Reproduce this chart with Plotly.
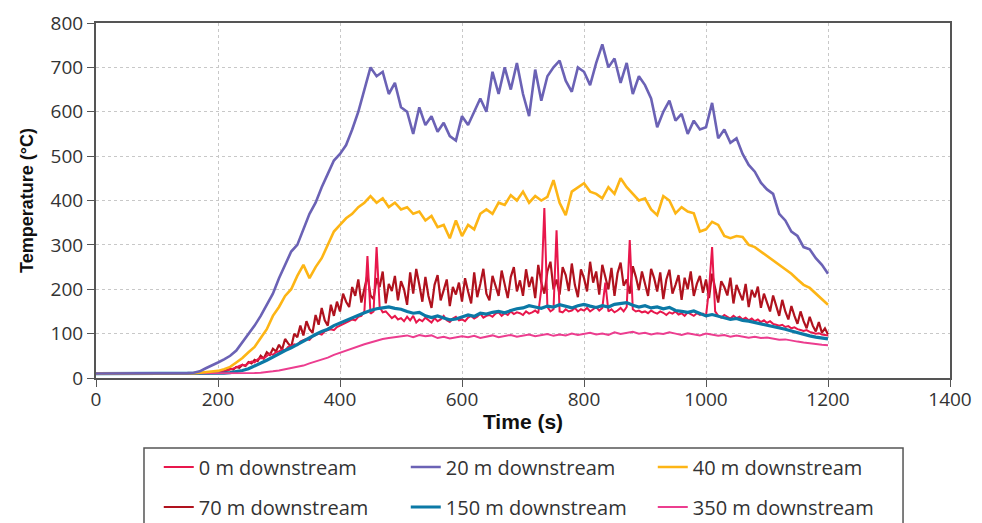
import plotly.graph_objects as go

# ---------------- data ----------------
time10 = list(range(0, 1201, 10))
time5 = list(range(0, 1201, 5))

t20 = [10]*15 + [
    11, 12, 15, 22, 28, 35, 42, 50, 62, 80,
    100, 118, 140, 165, 190, 225, 255, 285, 300, 335,
    370, 395, 430, 460, 490, 505, 525, 560, 600, 650,
    700, 680, 690, 640, 665, 610, 600, 550, 610, 570,
    590, 555, 575, 545, 535, 590, 570, 600, 630, 600,
    690, 640, 700, 650, 710, 640, 590, 695, 625, 680,
    700, 715, 670, 645, 700, 690, 660, 710, 752, 700,
    720, 665, 710, 640, 680, 660, 630, 565, 600, 625,
    580, 595, 550, 580, 560, 565, 620, 540, 560, 530,
    540, 505, 480, 465, 440, 425, 415, 370, 355, 330,
    320, 295, 290, 270, 255, 235]

t40 = [10]*16 + [
    11, 12, 13, 14, 16, 20, 25, 35, 45, 58,
    70, 90, 110, 140, 160, 185, 200, 230, 255, 225,
    250, 270, 300, 330, 345, 360, 370, 385, 395, 410,
    395, 405, 385, 395, 380, 385, 370, 375, 355, 365,
    340, 345, 315, 355, 320, 345, 335, 370, 380, 370,
    395, 390, 412, 400, 420, 395, 410, 400, 408, 446,
    395, 367, 420, 430, 439, 420, 415, 405, 430, 415,
    450, 430, 416, 400, 405, 380, 367, 410, 400, 371,
    385, 375, 371, 330, 335, 352, 345, 320, 315, 320,
    318, 300, 295, 285, 275, 265, 255, 245, 235, 222,
    210, 203, 190, 178, 165]

t150 = [10]*21 + [
    11, 12, 14, 17, 21, 27, 33, 40, 47, 55,
    62, 68, 76, 84, 92, 98, 105, 110, 118, 124,
    130, 136, 142, 147, 152, 156, 158, 160, 157, 155,
    150, 146, 148, 140, 136, 140, 135, 131, 133, 138,
    142, 139, 146, 144, 148, 150, 147, 152, 156, 158,
    163, 160, 157, 162, 160, 165, 161, 158, 163, 166,
    162, 159, 163, 160, 166, 168, 170, 164, 160, 163,
    158, 160, 156, 159, 152, 150, 148, 151, 145, 140,
    143, 139, 135, 132, 134, 130, 128, 125, 122, 120,
    117, 114, 110, 106, 102, 98, 95, 92, 90, 88]

t350 = [10]*26 + [
    11, 12, 13, 15, 17, 20, 23, 25, 28, 33,
    37, 42, 46, 52, 57, 62, 66, 72, 76, 80,
    84, 88, 90, 92, 95, 96, 92, 97, 94, 96,
    90, 93, 89, 92, 94, 92, 95, 90, 93, 96,
    92, 95, 97, 93, 96, 98, 94, 97, 99, 95,
    98, 96, 100, 97, 99, 102, 98, 100, 97, 103,
    99, 101, 104, 100, 102, 98, 101, 99, 103, 100,
    97, 101, 99, 96, 100, 98, 95, 97, 93, 96,
    94, 91, 93, 90, 91, 88, 86, 87, 84, 82,
    80, 78, 77, 75, 74]

t70 = [10]*36 + [11, 11, 12, 12] + [
    13, 15, 14, 18, 21, 19, 25, 23, 30, 27, 36, 33, 41, 38, 50, 44, 58, 52, 66, 60,
    75, 64, 88, 78, 70, 100, 92, 118, 96, 128, 110, 102, 142, 120, 158, 130, 118, 165, 140, 172,
    150, 190, 172, 160, 205, 185, 222, 170, 200, 232, 186, 178, 225, 205, 240, 168, 212, 196, 230, 175,
    218, 200, 165, 238, 190, 246, 210, 172, 228, 185, 158, 210, 232, 175, 198, 222, 162, 205, 188, 215,
    172, 225, 195, 168, 238, 182, 212, 246, 190, 175, 230, 205, 185, 242, 210, 180, 228, 250, 195, 220,
    185, 245, 205, 228, 180, 255, 215, 190, 240, 262, 200, 222, 188, 250, 232, 196, 258, 210, 182, 245,
    225, 195, 262, 215, 240, 188, 255, 230, 200, 248, 185, 236, 260, 208, 222, 190, 252, 228, 198, 240,
    212, 185, 246, 225, 195, 238, 178, 222, 244, 190, 210, 232, 176, 226, 200, 240, 185, 212, 230, 192,
    222, 180, 235, 198, 170, 218, 205, 186, 226, 168, 210, 192, 175, 212, 160, 198, 182, 206, 158, 190,
    172, 150, 186, 160, 140, 176, 150, 132, 162, 140, 122, 150, 128, 112, 138, 118, 105, 126, 102, 112,
    98]

t0 = [10]*36 + [11, 11, 12, 12] + [
    13, 14, 15, 17, 19, 21, 24, 27, 30, 28, 34, 37, 35, 42, 45, 44, 50, 55, 52, 58,
    60, 64, 62, 70, 72, 76, 74, 82, 85, 88, 86, 94, 97, 100, 98, 105, 108, 110, 108, 115,
    118, 122, 125, 128, 132, 130, 138, 140, 150, 275, 145, 150, 295, 160, 148, 150, 142, 135, 140, 132,
    135, 128, 138, 130, 140, 125, 132, 128, 136, 130, 125, 135, 128, 132, 140, 130, 126, 134, 138, 130,
    132, 128, 136, 140, 134, 138, 145, 136, 140, 142, 138, 145, 148, 140, 146, 142, 150, 144, 148, 146,
    142, 150, 145, 148, 152, 146, 200, 383, 160, 150, 155, 333, 150, 148, 155, 150, 152, 158, 150, 155,
    152, 158, 150, 155, 160, 152, 158, 215, 150, 155, 148, 152, 158, 150, 160, 311, 155, 150, 152, 148,
    150, 146, 152, 148, 145, 150, 147, 142, 148, 145, 150, 143, 146, 140, 148, 144, 140, 146, 142, 145,
    140, 200, 295, 150, 140, 136, 142, 138, 134, 140, 135, 138, 132, 136, 130, 134, 128, 132, 126, 130,
    124, 128, 122, 120, 118, 120, 115, 117, 112, 114, 110, 108, 106, 108, 104, 102, 100, 101, 98, 97,
    96]

names = ["0 m downstream", "20 m downstream", "40 m downstream",
         "70 m downstream", "150 m downstream", "350 m downstream"]
colors = ["#E8174C", "#6B62B5", "#FDB515", "#B0121E", "#0B79A6", "#EC3D8F"]

# ---------------- figure ----------------
fig = go.Figure()

# draw order (bottom -> top) with legend placement
series = [
    (3, time5, t70, 2.2, "legend2", 1),
    (0, time5, t0, 2.0, "legend", 1),
    (4, time10, t150, 3.2, "legend2", 2),
    (5, time10, t350, 2.0, "legend2", 3),
    (2, time10, t40, 2.6, "legend", 3),
    (1, time10, t20, 2.6, "legend", 2),
]
for idx, xs, ys, w, lg, rank in series:
    fig.add_trace(go.Scatter(
        x=xs, y=ys, mode="lines", name=names[idx],
        line=dict(color=colors[idx], width=w),
        legend=lg, legendrank=rank,
    ))

tick_font = dict(family="Open Sans, Noto Sans, sans-serif", size=19, color="#333333")
xtitle_font = dict(family="Liberation Sans, Arial, sans-serif", size=21, color="#111111")
ytitle_font = dict(family="Liberation Sans, Arial, sans-serif", size=18, color="#111111")
legend_font = dict(family="Open Sans, Noto Sans, sans-serif", size=20, color="#333333")

# the page adds an 8 px body margin, so the figure is sized to fit the window
fig.update_layout(
    width=974, height=515,
    margin=dict(l=88, r=32, t=15, b=145, autoexpand=False),
    paper_bgcolor="white", plot_bgcolor="white",
    showlegend=True,
    legend=dict(
        orientation="h", x=0.0735, xanchor="left", y=-0.2507, yanchor="middle",
        entrywidth=202, entrywidthmode="pixels", itemwidth=30,
        font=legend_font, bgcolor="rgba(0,0,0,0)", traceorder="normal",
    ),
    legend2=dict(
        orientation="h", x=0.0735, xanchor="left", y=-0.3634, yanchor="middle",
        entrywidth=202, entrywidthmode="pixels", itemwidth=30,
        font=legend_font, bgcolor="rgba(0,0,0,0)", traceorder="normal",
    ),
    xaxis=dict(
        range=[0, 1400], dtick=200, tick0=0, automargin=False,
        showline=True, linecolor="#555555", linewidth=2, mirror=True,
        ticks="outside", ticklen=7, tickcolor="#555555",
        ticklabelstandoff=-4,
        showgrid=True, gridcolor="#C8C8C8", griddash="dot", gridwidth=1,
        zeroline=False, tickfont=tick_font,
        title=dict(text="<b>Time (s)</b>", font=xtitle_font, standoff=4),
    ),
    yaxis=dict(
        range=[0, 800], dtick=100, tick0=0, automargin=False,
        showline=True, linecolor="#555555", linewidth=2, mirror=True,
        ticks="outside", ticklen=7, tickcolor="#555555",
        showgrid=True, gridcolor="#C8C8C8", griddash="dot", gridwidth=1,
        zeroline=False, tickfont=tick_font,
        title=dict(text="<b>Temperature (°C)</b>", font=ytitle_font, standoff=12),
    ),
    shapes=[dict(
        type="rect", xref="paper", yref="paper",
        x0=0.0562, x1=0.945, y0=-0.197, y1=-0.45,
        line=dict(color="#555555", width=1.5), fillcolor="rgba(0,0,0,0)",
        layer="below",
    )],
)

fig.write_html("out.html")
